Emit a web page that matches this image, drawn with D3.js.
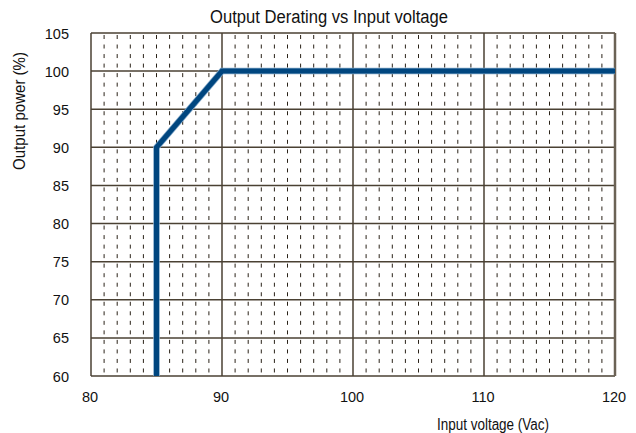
<!DOCTYPE html>
<html><head><meta charset="utf-8">
<script src="https://cdn.jsdelivr.net/npm/d3@7"></script>
<style>
body{margin:0;background:#fff;}
text{fill:#111;}
.n{font-family:"Liberation Sans Narrow","Arial Narrow","Liberation Sans",sans-serif;}
.r{font-family:"Liberation Sans",Arial,sans-serif;}
</style></head><body>
<svg id="c" width="636" height="433"></svg>
<script>
const voltage = [85, 85, 90, 120];
const power = [60, 90, 100, 100];
const xTicks = [80, 90, 100, 110, 120];
const yTicks = [60, 65, 70, 75, 80, 85, 90, 95, 100, 105];
const title = "Output Derating vs Input voltage";
const xLabel = "Input voltage (Vac)";
const yLabel = "Output power (%)";

const svg = d3.select("#c");
const L = 91, R = 615, T = 33, B = 376;
const x = d3.scaleLinear().domain([80, 120]).range([L, R]);
const y = d3.scaleLinear().domain([60, 105]).range([B, T]);

// minor vertical dashed lines every 1 V
const minor = d3.range(81, 120).filter(v => v % 10 !== 0);
const period = (y(100) - y(105)) / 4;
svg.append("g").selectAll("line").data(minor).join("line")
  .attr("x1", d => x(d)).attr("x2", d => x(d))
  .attr("y1", T).attr("y2", B)
  .attr("stroke", "#2a2218").attr("stroke-width", 1)
  .attr("stroke-dasharray", `4,${period - 4}`)
  .attr("stroke-dashoffset", period - 2);

// major grid
svg.append("g").selectAll("line").data(yTicks).join("line")
  .attr("x1", L).attr("x2", R).attr("y1", d => y(d)).attr("y2", d => y(d))
  .attr("stroke", "#4a4133").attr("stroke-width", 1.5);
svg.append("g").selectAll("line").data(xTicks).join("line")
  .attr("x1", d => x(d)).attr("x2", d => x(d)).attr("y1", T).attr("y2", B)
  .attr("stroke", d => d === 120 ? "#6b6255" : "#4a4133")
  .attr("stroke-width", d => d === 120 ? 2.5 : 1.5);

// data line
const line = d3.line().x(d => x(d[0])).y(d => y(d[1]));
const pts = voltage.map((v, i) => [v, power[i]]);
svg.append("path").datum(pts).attr("d", line)
  .attr("fill", "none").attr("stroke", "#7fa6c8").attr("stroke-width", 6.5)
  .attr("stroke-linejoin", "miter");
svg.append("path").datum(pts).attr("d", line)
  .attr("fill", "none").attr("stroke", "#00467f").attr("stroke-width", 5)
  .attr("stroke-linejoin", "miter");

// tick labels
svg.append("g").selectAll("text").data(yTicks).join("text").attr("class", "r")
  .attr("x", 69).attr("y", d => y(d) + 5.5)
  .attr("text-anchor", "end").attr("font-size", 14.5).text(d => d);
svg.append("g").selectAll("text").data(xTicks).join("text").attr("class", "r")
  .attr("x", d => x(d) - 1).attr("y", 402)
  .attr("text-anchor", "middle").attr("font-size", 14.5).text(d => d);

svg.append("text").attr("class", "n").attr("x", 210).attr("y", 23)
  .attr("font-size", 18).attr("textLength", 238).attr("lengthAdjust", "spacingAndGlyphs").text(title);
svg.append("text").attr("class", "n").attr("x", 437).attr("y", 430)
  .attr("font-size", 16).attr("textLength", 112).attr("lengthAdjust", "spacingAndGlyphs").text(xLabel);
svg.append("text").attr("class", "n").attr("transform", "translate(25,170) rotate(-90)")
  .attr("font-size", 16).attr("textLength", 118).attr("lengthAdjust", "spacingAndGlyphs").text(yLabel);
</script></body></html>
